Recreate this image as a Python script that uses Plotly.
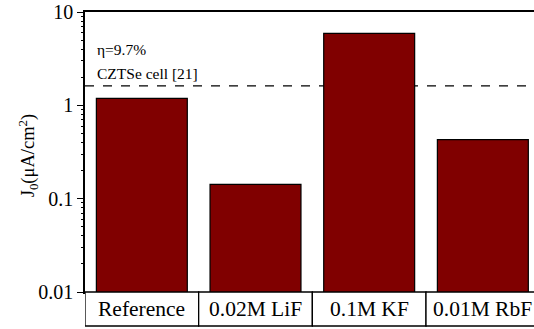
import plotly.graph_objects as go

# Exchange current density J0 for each treatment
samples = ["Reference", "0.02M LiF", "0.1M KF", "0.01M RbF"]
j0_values = [1.19, 0.142, 5.9, 0.43]

# Benchmark value from a reported CZTSe device
benchmark_j0 = 1.62
benchmark_lines = ["η=9.7%", "CZTSe cell [21]"]

y_tickvals = [0.01, 0.1, 1, 10]
y_ticktext = ["0.01", "0.1", "1", "10"]
y_minorvals = [m * d for d in (0.01, 0.1, 1) for m in range(2, 10)]

FONT = "Liberation Serif, Times New Roman, serif"
W, H = 534, 329
M_L, M_R, M_T, M_B = 85, 0, 12, 37
plot_w = W - M_L - M_R
plot_h = H - M_T - M_B
X_RANGE = [-0.5, 3.45]
Y_RANGE = [-2, 1]

xpos = list(range(len(samples)))

fig = go.Figure()
# Bars sit on the overlay axis, which also carries the short minor ticks
fig.add_trace(go.Bar(
    x=xpos, y=j0_values, width=0.8, yaxis="y2",
    marker=dict(color="#800000", line=dict(color="black", width=1.2)),
    showlegend=False,
))

# Dashed benchmark line behind the bars
fig.add_shape(type="line", xref="x domain", yref="y",
              x0=0, x1=1, y0=benchmark_j0, y1=benchmark_j0,
              line=dict(color="black", width=1.3, dash="dash"), layer="below")

for txt, yp in zip(benchmark_lines, [0.865, 0.78]):
    fig.add_annotation(xref="paper", yref="paper", x=0.022, y=yp,
                       xanchor="left", yanchor="middle", text=txt,
                       showarrow=False,
                       font=dict(family=FONT, size=15.5, color="black"))

# Category table beneath the axis
box_depth = 34 / plot_h
for i, name in enumerate(samples):
    fig.add_shape(type="rect", xref="x", yref="paper",
                  x0=i - 0.5, x1=i + 0.5, y0=-box_depth, y1=0,
                  line=dict(color="black", width=1.3), fillcolor="white",
                  layer="above")
    fig.add_annotation(xref="x", yref="paper", x=i, y=-box_depth / 2,
                       text=name, showarrow=False, xanchor="center",
                       yanchor="middle",
                       font=dict(family=FONT, size=21.5, color="black"))

# Rotated y-axis title
fig.add_annotation(xref="paper", yref="paper", x=-57 / plot_w,
                   y=(292.7 - 156) / plot_h, xanchor="center", yanchor="middle",
                   text="J<sub>0</sub>(μA/cm<sup>2</sup>)", textangle=-90,
                   showarrow=False,
                   font=dict(family=FONT, size=18.5, color="black"))

fig.update_layout(
    width=W, height=H,
    margin=dict(l=M_L, r=M_R, t=M_T, b=M_B),
    paper_bgcolor="white", plot_bgcolor="white",
    font=dict(family=FONT, color="black"),
    bargap=0.2,
    xaxis=dict(
        range=X_RANGE, showticklabels=False, ticks="",
        showgrid=False, zeroline=False,
        showline=True, linecolor="black", linewidth=1.5, mirror=True,
    ),
    yaxis=dict(
        type="log", range=Y_RANGE,
        tickmode="array", tickvals=y_tickvals, ticktext=y_ticktext,
        ticks="outside", ticklen=6, tickwidth=1.3, tickcolor="black",
        showgrid=False, zeroline=False,
        showline=True, linecolor="black", linewidth=1.5, mirror=False,
        tickfont=dict(family=FONT, size=20, color="black"),
    ),
    yaxis2=dict(
        type="log", range=Y_RANGE, overlaying="y", anchor="x", side="left",
        tickmode="array", tickvals=y_minorvals,
        ticktext=[""] * len(y_minorvals), showticklabels=False,
        ticks="outside", ticklen=3.5, tickwidth=1, tickcolor="black",
        showgrid=False, zeroline=False, showline=False,
    ),
)

fig.write_html("out.html")
